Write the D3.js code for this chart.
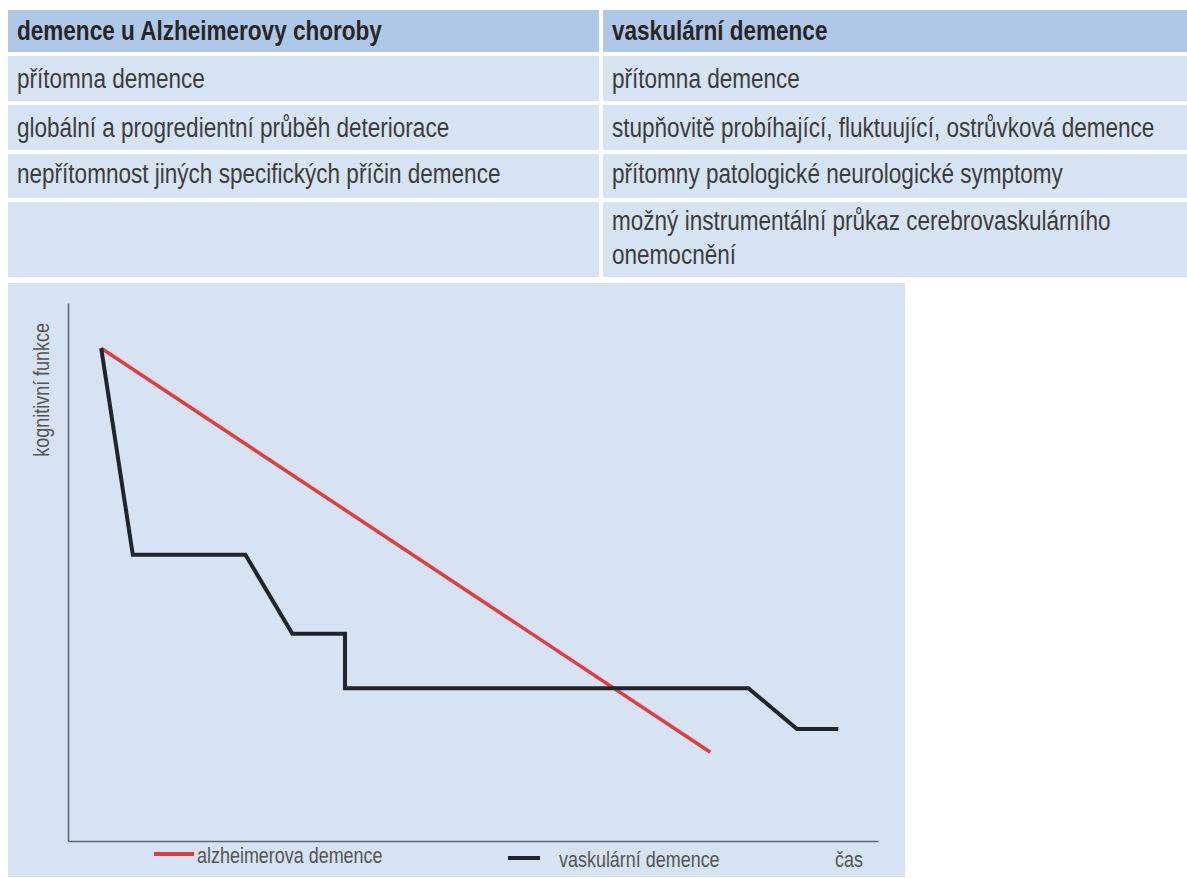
<!DOCTYPE html>
<html>
<head>
<meta charset="utf-8">
<script src="https://cdn.jsdelivr.net/npm/d3@7"></script>
<style>
  html, body { margin: 0; padding: 0; background: #ffffff; }
  svg { display: block; }
</style>
</head>
<body>
<svg id="chart" width="1187" height="878"></svg>
<script>
// ---------- data ----------
const tableHeaders = ["demence u Alzheimerovy choroby", "vaskulární demence"];
const leftColumn = [
  "přítomna demence",
  "globální a progredientní průběh deteriorace",
  "nepřítomnost jiných specifických příčin demence",
  ""
];
const rightColumn = [
  "přítomna demence",
  "stupňovitě probíhající, fluktuující, ostrůvková demence",
  "přítomny patologické neurologické symptomy",
  "možný instrumentální průkaz cerebrovaskulárního\nonemocnění"
];

const seriesNames = ["alzheimerova demence", "vaskulární demence"];
const yAxisLabel = "kognitivní funkce";
const xAxisLabel = "čas";

// time (x) and cognitive function (y), both on a 0–100 scale
const timeAlz = [4.1, 79.3];
const cogAlz  = [91.6, 16.5];
const timeVas = [4.1, 8.0, 21.9, 27.7, 34.2, 34.2, 84.0, 90.0, 95.1];
const cogVas  = [91.6, 53.2, 53.2, 38.5, 38.5, 28.4, 28.4, 20.8, 20.8];

// ---------- drawing ----------
const svg = d3.select("#chart");
const FONT = "'Liberation Sans', Arial, sans-serif";
const CONDENSE = 0.835; // reference uses a narrow sans face

// text helper: condensed horizontally via a transform
function addText(parent, x, y, str, opt) {
  opt = opt || {};
  const rot = opt.rotate ? ` rotate(${opt.rotate})` : "";
  return parent.append("text")
    .attr("transform", `translate(${x},${y})${rot} scale(${CONDENSE},1)`)
    .attr("text-anchor", opt.anchor || "start")
    .attr("font-family", FONT)
    .attr("font-size", opt.size || 27)
    .attr("font-weight", opt.weight || "normal")
    .attr("fill", opt.fill || "#3d3d3d")
    .text(str);
}

// table layout
const colX = [8, 603];
const colW = [591, 584];
const headerBand = {y: 10, h: 42};
const rowBands = [
  {y: 56, h: 45},
  {y: 105, h: 45},
  {y: 154, h: 44},
  {y: 202, h: 75}
];
const rowBaselines = [88, 137, 183, 230];
const lineGap = 34;

const table = svg.append("g").attr("class", "table");

table.selectAll("rect.head").data(tableHeaders).join("rect")
  .attr("class", "head")
  .attr("x", (d, i) => colX[i]).attr("y", headerBand.y)
  .attr("width", (d, i) => colW[i]).attr("height", headerBand.h)
  .attr("fill", "#b0c8e8");

tableHeaders.forEach((h, i) => {
  addText(table, colX[i] + 9, 40, h, {weight: "bold", fill: "#262626"});
});

const columns = [leftColumn, rightColumn];
columns.forEach((col, ci) => {
  const g = table.append("g");
  g.selectAll("rect").data(col).join("rect")
    .attr("x", colX[ci]).attr("y", (d, i) => rowBands[i].y)
    .attr("width", colW[ci]).attr("height", (d, i) => rowBands[i].h)
    .attr("fill", "#d7e4f3");
  col.forEach((txt, ri) => {
    txt.split("\n").forEach((line, li) => {
      if (!line) return;
      addText(g, colX[ci] + 9, rowBaselines[ri] + li * lineGap, line);
    });
  });
});

// chart panel
svg.append("rect")
  .attr("x", 8).attr("y", 283).attr("width", 897).attr("height", 594)
  .attr("fill", "#d5e3f3");

const x = d3.scaleLinear().domain([0, 100]).range([68, 878]);
const y = d3.scaleLinear().domain([0, 100]).range([841, 303]);

const axisColor = "#5d6772";
const yAxisG = svg.append("g").attr("transform", `translate(${x(0)},0)`)
  .call(d3.axisLeft(y).ticks(0).tickSizeOuter(0));
const xAxisG = svg.append("g").attr("transform", `translate(0,${y(0)})`)
  .call(d3.axisBottom(x).ticks(0).tickSizeOuter(0));
[yAxisG, xAxisG].forEach(g => g.select(".domain").attr("stroke", axisColor).attr("stroke-width", 1.6));

const line = d3.line().x(d => x(d[0])).y(d => y(d[1]));
const alzPts = timeAlz.map((t, i) => [t, cogAlz[i]]);
const vasPts = timeVas.map((t, i) => [t, cogVas[i]]);

svg.append("path").datum(alzPts)
  .attr("d", line).attr("fill", "none")
  .attr("stroke", "#e43c3e").attr("stroke-width", 3.5);

svg.append("path").datum(vasPts)
  .attr("d", line).attr("fill", "none")
  .attr("stroke", "#20252d").attr("stroke-width", 4)
  .attr("stroke-linejoin", "miter");

// y-axis label
addText(svg, 49, 323, yAxisLabel, {rotate: -90, anchor: "end", size: 21.5, fill: "#555"});

// legend
const legendColors = ["#e43c3e", "#20252d"];
const legendLine = [{x1: 154, x2: 194, y: 854}, {x1: 508, x2: 540, y: 858}];
const legendText = [{x: 197, y: 863}, {x: 559, y: 867}];
seriesNames.forEach((name, i) => {
  svg.append("line")
    .attr("x1", legendLine[i].x1).attr("x2", legendLine[i].x2)
    .attr("y1", legendLine[i].y).attr("y2", legendLine[i].y)
    .attr("stroke", legendColors[i]).attr("stroke-width", 4);
  addText(svg, legendText[i].x, legendText[i].y, name, {size: 21.5, fill: "#555"});
});

addText(svg, 835, 867, xAxisLabel, {size: 21.5, fill: "#555"});
</script>
</body>
</html>
